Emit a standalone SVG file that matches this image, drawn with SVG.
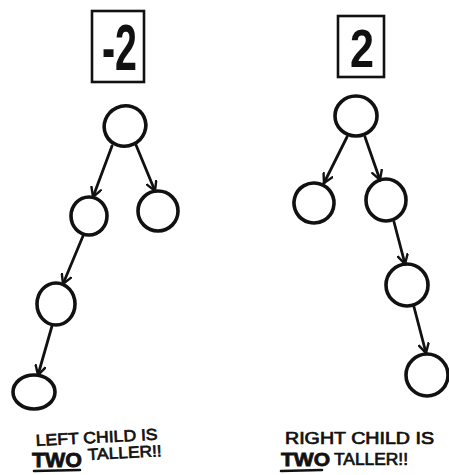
<svg xmlns="http://www.w3.org/2000/svg" width="449" height="475" viewBox="0 0 449 475">
<style>
.n{fill:none;stroke:#111;stroke-width:3.6}
.b{fill:none;stroke:#111;stroke-width:2.6}
.e{fill:none;stroke:#111;stroke-width:2.8;stroke-linecap:round}
.num{font-family:"Liberation Sans",Arial,sans-serif;font-weight:bold;fill:#111}
.t{font-family:"Liberation Sans",Arial,sans-serif;fill:#111;stroke:#111;stroke-width:0.7}
.tb{font-family:"Liberation Sans",Arial,sans-serif;font-weight:bold;fill:#111;stroke:#111;stroke-width:0.8}
.u{stroke:#111;stroke-width:2.6;stroke-linecap:round;fill:none}
</style>
<defs>
<marker id="ah" viewBox="0 0 12 12" refX="10" refY="6" markerWidth="12" markerHeight="12" markerUnits="userSpaceOnUse" orient="auto">
<polyline points="1,1 10,6 1,11" fill="none" stroke="#111" stroke-width="2.4" stroke-linecap="round"/>
</marker>
</defs>
<g id="balance-left">
<rect class="b" x="92" y="11" width="52" height="71"/>
<text class="num" x="102" y="70" font-size="64" textLength="35" lengthAdjust="spacingAndGlyphs">-2</text>
</g>
<g id="balance-right">
<rect class="b" x="338" y="16" width="46" height="61"/>
<text class="num" x="350" y="67" font-size="54" textLength="24" lengthAdjust="spacingAndGlyphs">2</text>
</g>
<g id="connectors">
<line class="e" x1="112" y1="146" x2="93" y2="197" marker-end="url(#ah)"/>
<line class="e" x1="136" y1="145" x2="155" y2="191" marker-end="url(#ah)"/>
<line class="e" x1="83" y1="236" x2="63" y2="284" marker-end="url(#ah)"/>
<line class="e" x1="52" y1="326" x2="38" y2="375" marker-end="url(#ah)"/>
<line class="e" x1="347" y1="137" x2="324" y2="183" marker-end="url(#ah)"/>
<line class="e" x1="365" y1="137" x2="380" y2="180" marker-end="url(#ah)"/>
<line class="e" x1="394" y1="222" x2="405" y2="264" marker-end="url(#ah)"/>
<line class="e" x1="414" y1="307" x2="426" y2="353" marker-end="url(#ah)"/>
</g>
<g id="l-root"><ellipse class="n" cx="125" cy="126" rx="21" ry="20" transform="rotate(-25 125 126)"/></g>
<g id="l-left"><ellipse class="n" cx="89" cy="216" rx="18" ry="19"/></g>
<g id="l-right"><ellipse class="n" cx="158" cy="211" rx="20" ry="20"/></g>
<g id="l-ll"><ellipse class="n" cx="56" cy="304" rx="19" ry="21"/></g>
<g id="l-lll"><ellipse class="n" cx="34" cy="392" rx="21" ry="17"/></g>
<g id="r-root"><ellipse class="n" cx="356" cy="116" rx="21" ry="20"/></g>
<g id="r-left"><ellipse class="n" cx="314" cy="203" rx="20" ry="20" transform="rotate(-30 314 203)"/></g>
<g id="r-right"><ellipse class="n" cx="386" cy="200" rx="20" ry="21"/></g>
<g id="r-rr"><ellipse class="n" cx="407" cy="285" rx="21" ry="21"/></g>
<g id="r-rrr"><ellipse class="n" cx="427" cy="375" rx="21" ry="21"/></g>
<g id="label-left">
<text class="t" x="36" y="446" font-size="16" textLength="122" lengthAdjust="spacingAndGlyphs" transform="rotate(-3 36 446)">LEFT CHILD IS</text>
<text class="tb" x="32" y="467" font-size="21" textLength="50" lengthAdjust="spacingAndGlyphs">TWO</text>
<text class="t" x="88" y="460" font-size="16" textLength="74" lengthAdjust="spacingAndGlyphs" transform="rotate(-3 88 460)">TALLER!!</text>
<line class="u" x1="34" y1="471" x2="80" y2="470"/>
</g>
<g id="label-right">
<text class="t" x="285" y="444" font-size="16" textLength="149" lengthAdjust="spacingAndGlyphs">RIGHT CHILD IS</text>
<text class="tb" x="281" y="466" font-size="19" textLength="49" lengthAdjust="spacingAndGlyphs">TWO</text>
<text class="t" x="334" y="465" font-size="16" textLength="74" lengthAdjust="spacingAndGlyphs">TALLER!!</text>
<line class="u" x1="281" y1="471" x2="322" y2="470"/>
</g>
</svg>
